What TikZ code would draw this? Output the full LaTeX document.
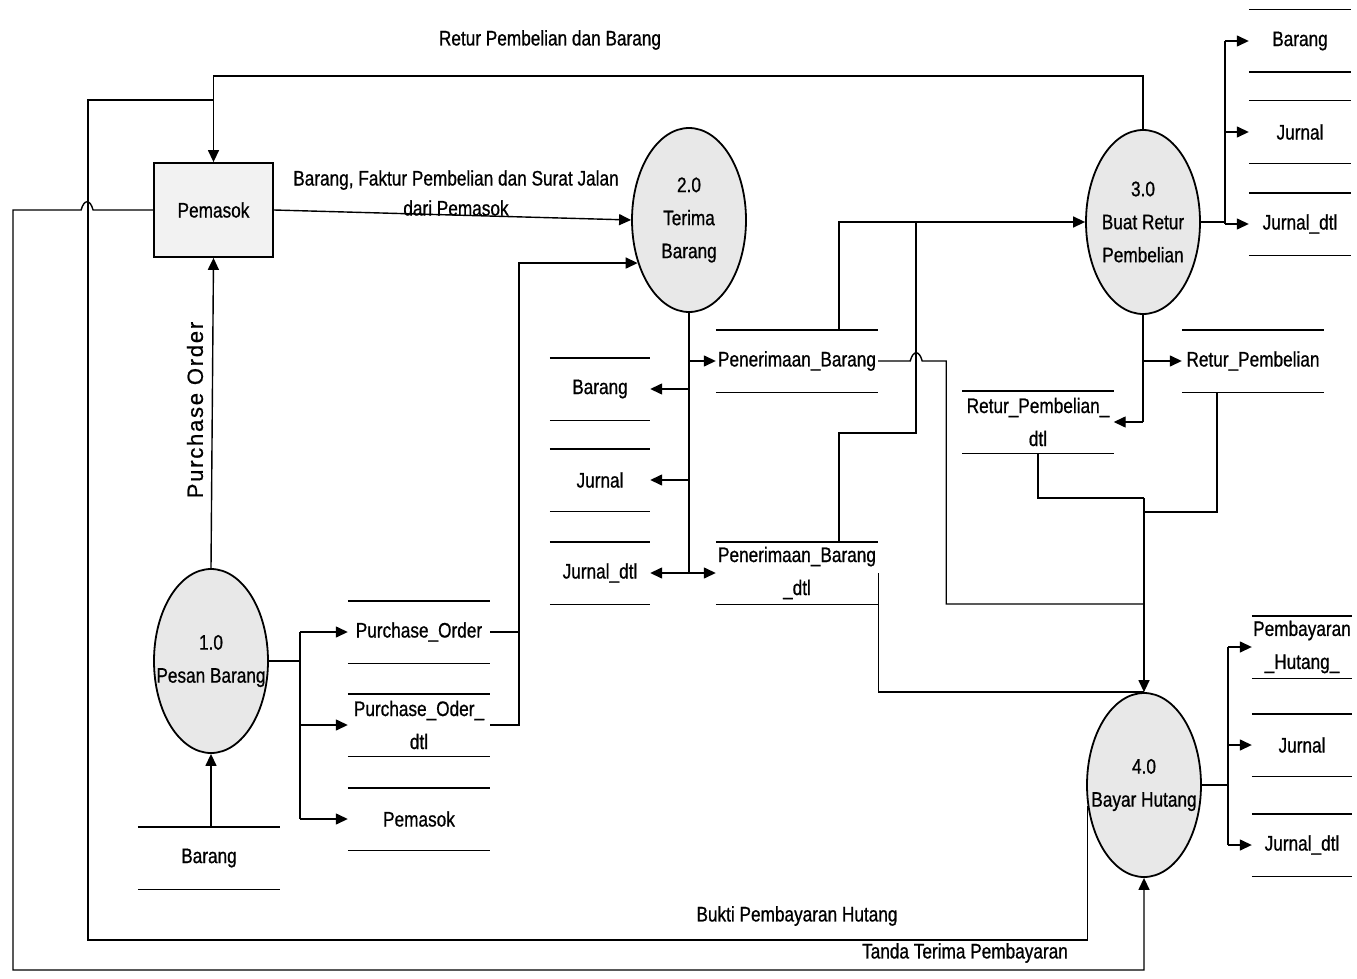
\documentclass[tikz,border=0pt]{standalone}
\usepackage{fontspec}
\setmainfont{Liberation Sans}[FakeStretch=0.82, FakeBold=0.8]
\newfontfamily\polabel{Liberation Sans}[LetterSpace=8, FakeBold=0.8]
\usetikzlibrary{arrows.meta, shapes.geometric, positioning, calc}

\begin{document}
\begin{tikzpicture}[
  x=1pt, y=-1pt,
  font=\fontsize{21}{33}\selectfont,
  line width=1.4pt,
  arr/.style={-{Triangle[length=12pt, width=11pt]}},
  proc/.style={ellipse, draw, line width=1.8pt, fill=gray!18,
               inner xsep=-30pt, inner ysep=0pt,
               minimum width=114pt, minimum height=184pt, align=center},
  ent/.style={draw, line width=1.8pt, fill=gray!10,
              minimum width=119pt, minimum height=94pt},
  store/.style={minimum height=61pt, inner sep=0pt, align=center,
    append after command={
      (\tikzlastnode.north west) edge[draw] (\tikzlastnode.north east)
      (\tikzlastnode.south west) edge[draw] (\tikzlastnode.south east)}}
]
\useasboundingbox (0,0) rectangle (1357,979);

% entity and processes
\node[ent] (pemasok) at (213.5,210) {Pemasok};
\node[proc] (p1) at (211,661) {1.0\\Pesan Barang};
\node[proc] (p2) at (689,220) {2.0\\Terima\\Barang};
\node[proc] (p3) at (1143,222) {3.0\\Buat Retur\\Pembelian};
\node[proc] (p4) at (1144,785) {4.0\\Bayar Hutang};

% data stores
\node[store, minimum width=141pt] (barang1) at (209,858) {Barang};
\node[store, minimum width=141pt] (po) at (419,632) {Purchase\_Order};
\node[store, minimum width=141pt] (podtl) at (419,725) {Purchase\_Oder\_\\dtl};
\node[store, minimum width=141pt] (pemasok1) at (419,819) {Pemasok};

\node[store, minimum width=99pt] (barang2) at (600,389) {Barang};
\node[store, minimum width=99pt] (jurnal2) at (600,480) {Jurnal};
\node[store, minimum width=99pt] (jdtl2) at (600,573) {Jurnal\_dtl};
\node[store, minimum width=161pt] (terima) at (797,361) {Penerimaan\_Barang};
\node[store, minimum width=161pt] (terimadtl) at (797,573) {Penerimaan\_Barang\\\_dtl};

\node[store, minimum width=150pt] (returdtl) at (1038,422) {Retur\_Pembelian\_\\dtl};
\node[store, minimum width=141pt] (retur) at (1253,361) {Retur\_Pembelian};

\node[store, minimum width=101pt] (barang3) at (1300,41) {Barang};
\node[store, minimum width=101pt] (jurnal3) at (1300,132) {Jurnal};
\node[store, minimum width=101pt] (jdtl3) at (1300,224) {Jurnal\_dtl};

\node[store, minimum width=99pt] (bayar) at (1302,647) {Pembayaran\\\_Hutang\_};
\node[store, minimum width=99pt] (jurnal4) at (1302,745) {Jurnal};
\node[store, minimum width=99pt] (jdtl4) at (1302,845) {Jurnal\_dtl};

% bend points
\coordinate (top) at (0,76);
\coordinate (bk) at (88,940);
\coordinate (bk2) at (88,100);
\coordinate (tt) at (13,970);
\coordinate (c1) at (839,0);
\coordinate (c2) at (916,433);
\coordinate (c3) at (1225,0);
\coordinate (c4) at (300,0);
\coordinate (c5) at (519,0);
\coordinate (c6) at (1228,0);
\coordinate (r1) at (0,604);
\coordinate (r2) at (0,498);
\coordinate (r3) at (1217,512);

% flows with the supplier
\draw[arr] (p3.north) |- (pemasok.north |- top) -- (pemasok.north);
\draw (p4.200) |- (bk) -- (bk2) -- (bk2 -| pemasok.north);
\draw[arr] (pemasok.west) -- ++(-60,0) .. controls +(-3,-11) and +(3,-11) .. ++(-12,0)
  -- (tt |- pemasok.west) -- (tt) -| (p4.south);
\draw[arr] (pemasok.east) -- (p2.west);
\draw[arr] (p1.north) -- (pemasok.south);
\draw[arr] (barang1.north -| p1.south) -- (p1.south);

% process 1.0
\draw (p1.east) -- (p1.east -| c4);
\draw (c4 |- po.west) -- (c4 |- pemasok1.west);
\draw[arr] (c4 |- po.west) -- (po.west);
\draw[arr] (c4 |- podtl.west) -- (podtl.west);
\draw[arr] (c4 |- pemasok1.west) -- (pemasok1.west);
\draw (po.east) -- (po.east -| c5);
\draw[arr] (podtl.east) -| (c5 |- p2.220) -- (p2.220);

% process 2.0
\draw (p2.south) -- (p2.south |- jdtl2.east);
\draw[arr] (p2.south |- terima.west) -- (terima.west);
\draw[arr] (p2.south |- barang2.east) -- (barang2.east);
\draw[arr] (p2.south |- jurnal2.east) -- (jurnal2.east);
\draw[arr] (p2.south |- jdtl2.east) -- (jdtl2.east);
\draw[arr] (p2.south |- terimadtl.west) -- (terimadtl.west);

% receipts to 3.0 and 4.0
\draw[arr] (terima.north -| c1) |- (p3.west);
\draw (terimadtl.north -| c1) |- (c2) -- (c2 |- p3.west);
\draw (terima.east) -- ++(32,0) .. controls +(3,-11) and +(-3,-11) .. ++(12,0)
  -- ++(24,0) |- (p4.north |- r1);
\draw (terimadtl.east) |- (p4.north);

% process 3.0
\draw (p3.east) -- (p3.east -| c3);
\draw (c3 |- barang3.west) -- (c3 |- jdtl3.west);
\draw[arr] (c3 |- barang3.west) -- (barang3.west);
\draw[arr] (c3 |- jurnal3.west) -- (jurnal3.west);
\draw[arr] (c3 |- jdtl3.west) -- (jdtl3.west);
\draw (p3.south) -- (p3.south |- returdtl.east);
\draw[arr] (p3.south |- retur.west) -- (retur.west);
\draw[arr] (p3.south |- returdtl.east) -- (returdtl.east);
\draw (returdtl.south) |- (p4.north |- r2);
\draw (retur.south -| r3) |- (r3) -- (r3 -| p4.north);
\draw[arr] (p4.north |- r2) -- (p4.north);

% process 4.0
\draw (p4.east) -- (p4.east -| c6);
\draw (c6 |- bayar.west) -- (c6 |- jdtl4.west);
\draw[arr] (c6 |- bayar.west) -- (bayar.west);
\draw[arr] (c6 |- jurnal4.west) -- (jurnal4.west);
\draw[arr] (c6 |- jdtl4.west) -- (jdtl4.west);

% flow labels
\node (lretur) at (550,40) {Retur Pembelian dan Barang};
\node[align=center, font=\fontsize{21}{30}\selectfont] (lbarang) at (456,193)
  {Barang, Faktur Pembelian dan Surat Jalan\\dari Pemasok};
\node[rotate=90, font=\polabel\fontsize{22}{26}\selectfont] (lpo) at (195,410) {Purchase Order};
\node (lbukti) at (797,916) {Bukti Pembayaran Hutang};
\node (ltanda) at (965,953) {Tanda Terima Pembayaran};

\end{tikzpicture}
\end{document}
